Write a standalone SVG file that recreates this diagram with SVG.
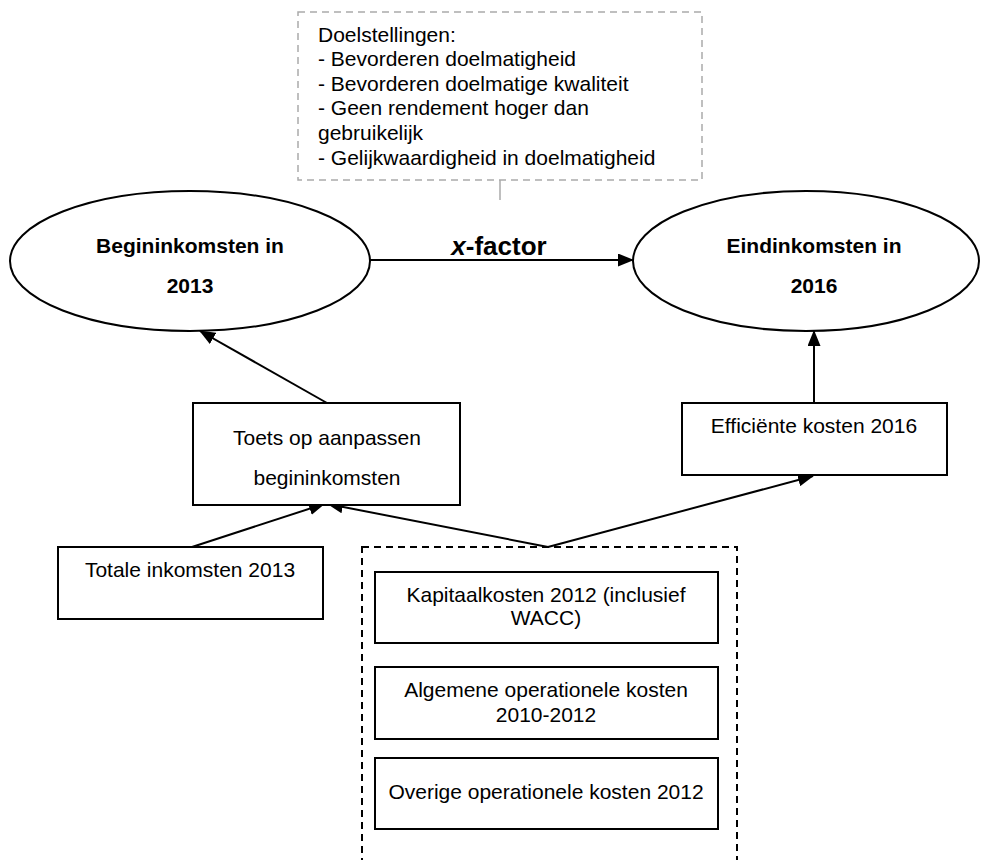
<svg xmlns="http://www.w3.org/2000/svg" width="983" height="860" viewBox="0 0 983 860">
<defs>
<marker id="ah" markerWidth="16" markerHeight="13" refX="15" refY="6.5" orient="auto" markerUnits="userSpaceOnUse">
<path d="M0,0 L16,6.5 L0,13 Z" fill="#000"/>
</marker>
<style>
text{font-family:"Liberation Sans",Arial,sans-serif;fill:#000}
.t{font-size:21px}
.b{font-size:21px;font-weight:bold}
.box{fill:#fff;stroke:#000;stroke-width:2}
.ell{fill:#fff;stroke:#000;stroke-width:2}
.c{fill:none;stroke:#000;stroke-width:2;marker-end:url(#ah)}
</style>
</defs>
<rect width="983" height="860" fill="#fff"/>
<g id="doelstellingen">
<rect x="298" y="12" width="404" height="168" fill="#fff" stroke="#aaa" stroke-width="1.5" stroke-dasharray="7,5"/>
<text class="t" x="318" y="42">Doelstellingen:</text>
<text class="t" x="318" y="66">- Bevorderen doelmatigheid</text>
<text class="t" x="318" y="91">- Bevorderen doelmatige kwaliteit</text>
<text class="t" x="318" y="115">- Geen rendement hoger dan</text>
<text class="t" x="318" y="140">gebruikelijk</text>
<text class="t" x="318" y="165">- Gelijkwaardigheid in doelmatigheid</text>
</g>
<g id="connectors">
<line x1="500" y1="180" x2="500" y2="200" stroke="#aaa" stroke-width="1.5"/>
<line class="c" x1="370" y1="260" x2="633" y2="260"/>
<line class="c" x1="327" y1="403" x2="200" y2="331"/>
<line class="c" x1="814" y1="403" x2="814" y2="331"/>
<line class="c" x1="192" y1="547" x2="324" y2="504"/>
<line class="c" x1="548" y1="547" x2="328" y2="504"/>
<line class="c" x1="548" y1="547" x2="813" y2="476"/>
</g>
<g id="begin">
<ellipse class="ell" cx="190" cy="261" rx="180" ry="70"/>
<text class="b" x="190" y="253" text-anchor="middle">Begininkomsten in</text>
<text class="b" x="190" y="293" text-anchor="middle">2013</text>
</g>
<g id="eind">
<ellipse class="ell" cx="806" cy="261" rx="173" ry="70"/>
<text class="b" x="814" y="253" text-anchor="middle">Eindinkomsten in</text>
<text class="b" x="814" y="293" text-anchor="middle">2016</text>
</g>
<g id="xfactor">
<text x="499" y="255" text-anchor="middle" style="font-size:26px;font-weight:bold"><tspan font-style="italic">x</tspan>-factor</text>
</g>
<g id="toets">
<rect class="box" x="193" y="403" width="267" height="102"/>
<text class="t" x="327" y="445" text-anchor="middle">Toets op aanpassen</text>
<text class="t" x="327" y="485" text-anchor="middle">begininkomsten</text>
</g>
<g id="efficient">
<rect class="box" x="682" y="403" width="265" height="72"/>
<text class="t" x="814" y="433" text-anchor="middle">Efficiënte kosten 2016</text>
</g>
<g id="totale">
<rect class="box" x="58" y="547" width="265" height="72"/>
<text class="t" x="190" y="577" text-anchor="middle">Totale inkomsten 2013</text>
</g>
<g id="kosten-groep">
<rect x="362" y="547" width="375" height="330" fill="none" stroke="#000" stroke-width="2" stroke-dasharray="7,5"/>
</g>
<g id="kapitaal">
<rect class="box" x="375" y="572" width="343" height="71"/>
<text class="t" x="546" y="602" text-anchor="middle">Kapitaalkosten 2012 (inclusief</text>
<text class="t" x="546" y="625" text-anchor="middle">WACC)</text>
</g>
<g id="algemeen">
<rect class="box" x="375" y="667" width="343" height="72"/>
<text class="t" x="546" y="697" text-anchor="middle">Algemene operationele kosten</text>
<text class="t" x="546" y="722" text-anchor="middle">2010-2012</text>
</g>
<g id="overig">
<rect class="box" x="375" y="758" width="343" height="71"/>
<text class="t" x="546" y="799" text-anchor="middle">Overige operationele kosten 2012</text>
</g>
</svg>
